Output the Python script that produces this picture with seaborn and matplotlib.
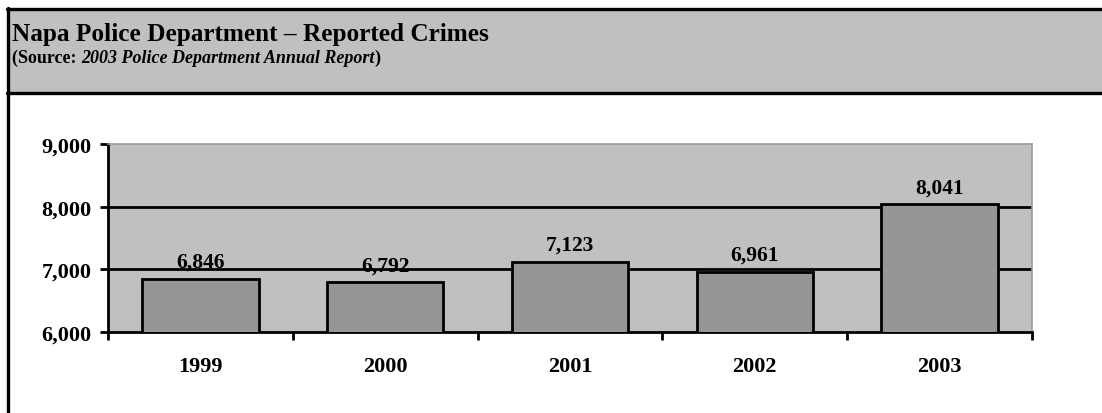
import matplotlib
matplotlib.use("Agg")
import matplotlib.pyplot as plt
import seaborn as sns
import pandas as pd
from matplotlib.patches import Rectangle
from matplotlib.lines import Line2D
from matplotlib.ticker import FuncFormatter, FixedLocator

years = ["1999", "2000", "2001", "2002", "2003"]
crimes = [6846, 6792, 7123, 6961, 8041]
y_ticks = [6000, 7000, 8000, 9000]
title = "Napa Police Department \u2013 Reported Crimes"
sub_a = "(Source: "
sub_b = "2003 Police Department Annual Report"
sub_c = ")"

sns.set_theme(style="white")
plt.rcParams["font.family"] = ["Liberation Serif", "DejaVu Serif"]
plt.rcParams["font.weight"] = "bold"
plt.rcParams["text.color"] = "black"
plt.rcParams["xtick.color"] = "black"
plt.rcParams["ytick.color"] = "black"

W, H = 1102, 414
fig = plt.figure(figsize=(W / 100, H / 100), dpi=100)

def fx(px):
    return px / W

def fy(py):
    return 1 - py / H

# header box
fig.patches.append(Rectangle((fx(7), fy(95)), fx(W - 7), fy(9) - fy(95),
                             transform=fig.transFigure, facecolor="#C0C0C0",
                             edgecolor="none", zorder=0))
fig.lines.append(Line2D([fx(7), 1], [fy(9.5), fy(9.5)], transform=fig.transFigure,
                        color="black", lw=2.4))
fig.lines.append(Line2D([fx(7), 1], [fy(94), fy(94)], transform=fig.transFigure,
                        color="black", lw=2.4))
fig.lines.append(Line2D([fx(7.5), fx(7.5)], [0, fy(8.5)], transform=fig.transFigure,
                        color="black", lw=2.4))
fig.text(fx(12), fy(41), title, fontsize=18.2, fontweight="bold", va="baseline", ha="left")
t1 = fig.text(fx(12), fy(63), sub_a, fontsize=13, fontweight="bold", va="baseline", ha="left")
fig.canvas.draw()
r = fig.canvas.get_renderer()
bb = t1.get_window_extent(r)
t2 = fig.text(bb.x1 / W, fy(63), sub_b, fontsize=13,
              fontweight="bold", style="italic", va="baseline", ha="left")
bb2 = t2.get_window_extent(r)
fig.text(bb2.x1 / W, fy(63), sub_c, fontsize=13, fontweight="bold", va="baseline", ha="left")

ax = fig.add_axes([fx(108), fy(333), fx(1032) - fx(108), fy(145) - fy(333)])
ax.set_facecolor("#C0C0C0")

df = pd.DataFrame({"year": years, "crimes": crimes})
sns.barplot(data=df, x="year", y="crimes", color="#969696", saturation=1,
            width=0.63, edgecolor="black", linewidth=2, ax=ax, zorder=3)
ax.set_ylim(y_ticks[0], y_ticks[-1])
ax.set_xlim(-0.5, len(years) - 0.5)
ax.set_yticks(y_ticks)
ax.yaxis.set_major_formatter(FuncFormatter(lambda v, p: f"{int(v):,}"))
for yv in y_ticks[1:-1]:
    ax.axhline(yv, color="black", lw=2, zorder=1)

for c in ax.containers:
    ax.bar_label(c, labels=[f"{v:,}" for v in crimes], padding=5,
                 fontsize=15.5, fontweight="bold", color="black", zorder=5)

ax.set_xlabel("")
ax.set_ylabel("")
for s in ["left", "bottom"]:
    ax.spines[s].set_color("black")
    ax.spines[s].set_linewidth(2)
for s in ["top", "right"]:
    ax.spines[s].set_color("#9A9A9A")
    ax.spines[s].set_linewidth(1.2)

ax.xaxis.set_minor_locator(FixedLocator([i - 0.5 for i in range(len(years) + 1)]))
ax.tick_params(axis="x", which="major", length=0, pad=17, labelsize=16)
ax.tick_params(axis="x", which="minor", length=6, width=2, color="black", direction="out",
               bottom=True)
ax.tick_params(axis="y", which="major", length=6, width=2, color="black", direction="out",
               left=True, pad=6, labelsize=16)
for lab in ax.get_xticklabels() + ax.get_yticklabels():
    lab.set_fontweight("bold")
    lab.set_color("black")

fig.savefig("out.png", dpi=100, facecolor="white")
